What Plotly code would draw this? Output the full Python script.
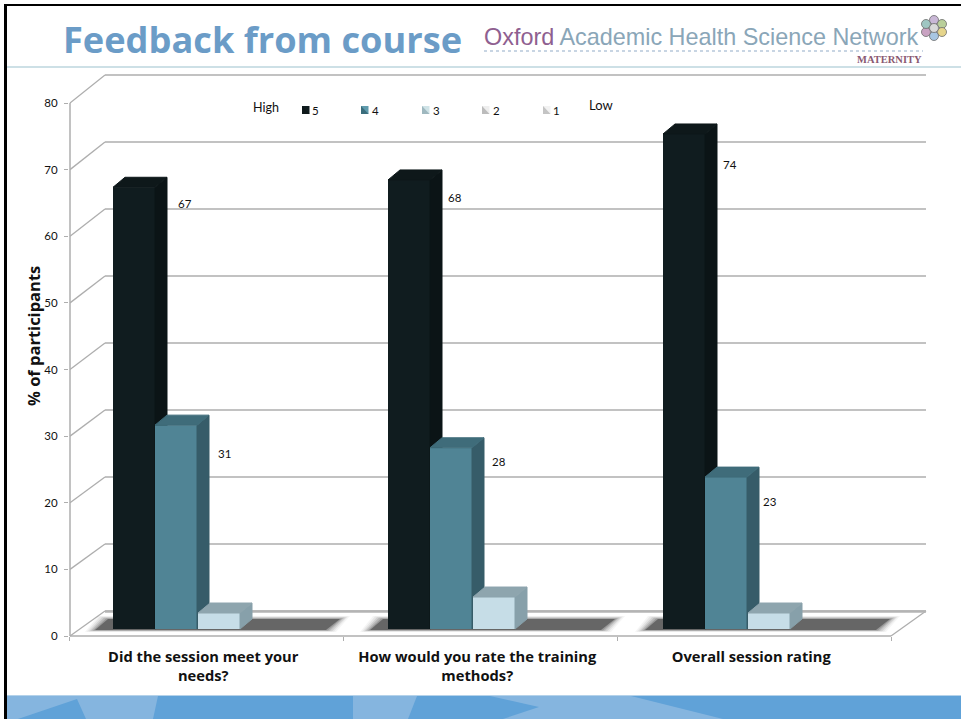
import plotly.graph_objects as go

W, H = 961, 719

categories = ["Did the session meet your<br>needs?",
              "How would you rate the training<br>methods?",
              "Overall session rating"]
series_names = ["5", "4", "3", "2", "1"]
values_5 = [66.3, 67.4, 74.3]
values_4 = [30.6, 27.2, 22.8]
values_3 = [2.4, 4.8, 2.4]
values_2 = [0, 0, 0]
values_1 = [0, 0, 0]
labels_5 = ["67", "68", "74"]
labels_4 = ["31", "28", "23"]
y_ticks = [0, 10, 20, 30, 40, 50, 60, 70, 80]

front_colors = ["#101c1f", "#508495", "#c6dde7"]
side_colors = ["#0b1416", "#365c69", "#87a0aa"]
top_colors = ["#0e181a", "#3f6c7a", "#8ea5ae"]
legend_dark = ["#0e181a", "#3a6d7c", "#9fb8bf", "#bcbcbc", "#c4c4c4"]
legend_light = ["#101c1f", "#5f9bad", "#cfe3e7", "#eeeeee", "#f2f2f2"]

# pixel geometry of the plot
X0, XU = 69.0, 274.0      # pixel of x=0, pixels per category
Y0, YU = 636.0, 6.6625    # pixel of y=0, pixels per unit
XR = 961.0                # right end of plot area
YT = 60.0                 # top end of plot area
x_max = (XR - X0) / XU
y_max = (Y0 - YT) / YU


def fx(p):
    return p / W


def fy(p):
    return 1 - p / H


shapes = []


def rect(x0, y0, x1, y1, color):
    shapes.append(dict(type="rect", xref="paper", yref="paper", x0=fx(x0), x1=fx(x1),
                       y0=fy(y0), y1=fy(y1), fillcolor=color, line_width=0, layer="below"))


def poly(points, color, opacity=1):
    d = "M" + "L".join(f"{fx(a):.5f},{fy(b):.5f}" for a, b in points) + "Z"
    shapes.append(dict(type="path", xref="paper", yref="paper", path=d, fillcolor=color,
                       opacity=opacity, line_width=0, layer="below"))


def line(x0, y0, x1, y1, color, width, dash="solid"):
    shapes.append(dict(type="line", xref="paper", yref="paper", x0=fx(x0), x1=fx(x1),
                       y0=fy(y0), y1=fy(y1), line=dict(color=color, width=width, dash=dash),
                       layer="below"))


# slide furniture
rect(5, 695, W, H, "#60a2d8")
line(5, 695.5, W, 695.5, "#b4d2ea", 1)
for pts in ([(7, 696), (158, 696), (153, 719), (86, 719), (77, 699), (18, 719), (7, 719)],
            [(353, 696), (417, 696), (408, 719), (353, 719)],
            [(490, 696), (631, 696), (723, 719), (503, 719), (539, 707)]):
    poly(pts, "#85b5df")
rect(4, 4, 7, H, "#000000")
rect(4, 4, W, 6, "#000000")
line(7, 67, W, 67, "#bcd6de", 1.5)
line(484, 51, 923, 51, "#b7c8da", 1.5, "dot")

# logo rosette
for (a, b, c) in [(934, 20, "#c9b7d6"), (942, 24, "#b9cf9a"), (942, 32, "#e6d58c"),
                  (934, 36, "#a8c6e2"), (926, 32, "#c9a2c2"), (926, 24, "#9fc6c2"),
                  (934, 28, "#d9d9d9")]:
    shapes.append(dict(type="circle", xref="paper", yref="paper", x0=fx(a - 4.5), x1=fx(a + 4.5),
                       y0=fy(b - 4.5), y1=fy(b + 4.5), fillcolor=c,
                       line=dict(color="#6d6d6d", width=0.8), layer="below"))

# 3D walls and floor
GRID = "#aeaeae"
for v in y_ticks:
    yf = Y0 - v * YU
    yb = 611 - v * 6.7
    line(70, yf, 105, yb, GRID, 1.3)
    line(105, yb, 926, yb, GRID, 1.5)
line(70, 103, 70, 636, GRID, 1.5)
line(70, 636, 891, 636, GRID, 1.5)
line(891, 636, 926, 611, GRID, 1.3)
line(105, 611.5, 926, 611.5, "#b4b4b4", 2.5)

# floor shadows
for g in range(3):
    dx = g * 275
    for grow, op, col in [(10, 0.06, "#555555"), (8, 0.09, "#555555"), (6, 0.14, "#555555"),
                          (4, 0.2, "#555555"), (2, 0.3, "#555555"), (0, 1.0, "#666666")]:
        poly([(95 + dx - grow, 630 + grow * 0.2), (326 + dx + grow, 630 + grow * 0.2),
              (340 + dx + grow, 619 - grow * 0.3), (108 + dx - grow, 619 - grow * 0.3)],
             col, op)

# legend swatches
for lx, dark, light in zip([302, 361, 422, 482, 543], legend_dark, legend_light):
    rect(lx, 106, lx + 7.5, 114, light)
    poly([(lx, 106), (lx + 7.5, 114), (lx, 114)], dark)

annotations = []


def text(x, y, s, size, color, family="Lato", anchor="left", bold=False):
    annotations.append(dict(x=fx(x), y=fy(y), xref="paper", yref="paper", text=f"<b>{s}</b>" if bold else s,
                            showarrow=False, xanchor=anchor, yanchor="middle",
                            font=dict(size=size, color=color, family=family)))


for tx, name in zip([310, 370, 431, 491, 551], series_names):
    text(tx, 110, name, 11.5, "#111111")
text(251, 107, "High", 12.5, "#111111")
text(587, 105, "Low", 13, "#111111")
text(61, 39, "Feedback from course", 36.2, "#6b9cc7", "Open Sans", bold=True)
annotations.append(dict(x=fx(482), y=fy(37), xref="paper", yref="paper", showarrow=False, xanchor="left",
                        yanchor="middle", font=dict(size=23.4, family="Liberation Sans"),
                        text="<span style='color:#8f5f90'>Oxford</span>"
                             " <span style='color:#8aa6b8'>Academic Health Science Network</span>"))
text(924, 59.5, "MATERNITY", 10.5, "#8a5a72", "Liberation Serif", "right", True)
annotations.append(dict(x=fx(33), y=fy(336), xref="paper", yref="paper", showarrow=False, textangle=-90,
                        xanchor="center", yanchor="middle",
                        text="<b>% of participants</b>",
                        font=dict(size=16.5, color="#111111", family="Open Sans")))

fig = go.Figure()

# base axes carry ticks; each bar series sits on its own overlaid axes so it stacks in depth order
axis_domain_x = [X0 / W, XR / W]
axis_domain_y = [1 - Y0 / H, 1 - YT / H]

bar_x = [(113, 155), (155, 197), (198, 240)]
group_step = 275
DX, DY = 12.0, 10.0
base_value = 1.05
all_series = [values_5, values_4, values_3]
all_labels = [labels_5, labels_4]
label_offsets = [[(30, 16), (25, 18), (25, 31)], [(27, 28), (27, 14), (23, 24)]]

for s, vals in enumerate(all_series):
    suffix = "" if s == 0 else str(s + 1)
    xa, ya = "x" + suffix, "y" + suffix
    lefts = [(bar_x[s][0] + g * group_step - X0) / XU for g in range(3)]
    width = (bar_x[s][1] - bar_x[s][0]) / XU
    centers = [l + width / 2 for l in lefts]
    fig.add_trace(go.Bar(x=centers, y=vals, base=[base_value] * 3, width=width, name=series_names[s],
                         marker=dict(color=front_colors[s], line_width=0), xaxis=xa, yaxis=ya,
                         showlegend=False, hoverinfo="skip"))
    ddx, ddy = DX / XU, DY / YU
    for l, v in zip(lefts, vals):
        top = base_value + v
        r = l + width
        fig.add_trace(go.Scatter(x=[r, r + ddx, r + ddx, r, r], y=[base_value, base_value + ddy, top + ddy, top, base_value],
                                 fill="toself", fillcolor=side_colors[s], mode="lines",
                                 line=dict(color=side_colors[s], width=1), xaxis=xa, yaxis=ya,
                                 showlegend=False, hoverinfo="skip"))
        fig.add_trace(go.Scatter(x=[l, l + ddx, r + ddx, r, l], y=[top, top + ddy, top + ddy, top, top],
                                 fill="toself", fillcolor=top_colors[s], mode="lines",
                                 line=dict(color=top_colors[s], width=1), xaxis=xa, yaxis=ya,
                                 showlegend=False, hoverinfo="skip"))
    if s < 2:
        for g, (l, v) in enumerate(zip(lefts, vals)):
            off = label_offsets[s][g]
            annotations.append(dict(x=l + width + off[0] / XU, y=base_value + v - off[1] / YU, xref=xa, yref=ya,
                                    text=all_labels[s][g], showarrow=False, xanchor="center", yanchor="middle",
                                    font=dict(size=11.5, color="#111111", family="Lato")))

layout = dict(
    width=W, height=H, margin=dict(l=0, r=0, t=0, b=0, pad=0), autosize=False,
    paper_bgcolor="white", plot_bgcolor="rgba(0,0,0,0)", barmode="overlay", showlegend=False,
    shapes=shapes, annotations=annotations,
    xaxis=dict(domain=axis_domain_x, range=[0, x_max], showgrid=False, zeroline=False, showline=False, automargin=False,
               tickmode="array", tickvals=[0.49, 1.49, 2.49], ticktext=[f"<b>{c}</b>" for c in categories],
               ticks="", tickfont=dict(size=14.7, color="#111111", family="Open Sans"), ticklabelstandoff=10,
               minor=dict(tickmode="array", tickvals=[0, 1, 2, 3], ticks="outside", ticklen=4, tickcolor=GRID, tickwidth=1.2)),
    yaxis=dict(domain=axis_domain_y, range=[0, y_max], showgrid=False, zeroline=False, showline=False, automargin=False,
               tickmode="array", tickvals=y_ticks, ticks="outside", ticklen=4, tickcolor=GRID, tickwidth=1.2,
               ticklabelstandoff=4,
               tickfont=dict(size=11.5, color="#111111", family="Lato")),
)
for s in (2, 3):
    layout[f"xaxis{s}"] = dict(domain=axis_domain_x, range=[0, x_max], overlaying="x", visible=False)
    layout[f"yaxis{s}"] = dict(domain=axis_domain_y, range=[0, y_max], overlaying="y", visible=False)
fig.update_layout(**layout)

fig.write_html("out.html", config={"displayModeBar": False}, post_script="document.body.style.margin='0';")
